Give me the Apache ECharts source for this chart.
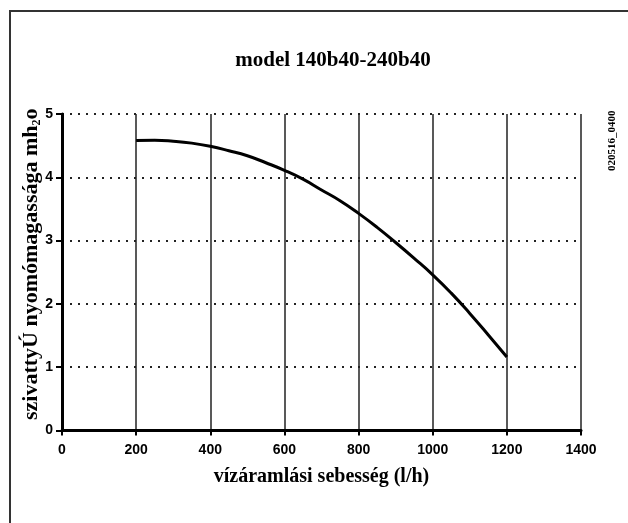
<!DOCTYPE html>
<html><head><meta charset="utf-8">
<script src="https://cdn.jsdelivr.net/npm/echarts@6/dist/echarts.min.js"></script>
<style>html,body{margin:0;padding:0;background:#fff}#c{width:628px;height:523px}</style>
</head><body><div id="c"></div>
<script>
const titleText = 'model 140b40-240b40';
const xAxisName = 'vízáramlási sebesség (l/h)';
const yAxisName = 'szivattyÚ nyomómagassága mh{sub|2}o';
const sideLabel = '020516_0400';
const flow = [200, 250, 300, 350, 400, 450, 500, 550, 600, 650, 700, 750, 800, 850, 900, 950, 1000, 1050, 1100, 1150, 1200];
const head = [4.58, 4.585, 4.57, 4.54, 4.49, 4.42, 4.34, 4.23, 4.11, 3.97, 3.80, 3.63, 3.43, 3.21, 2.97, 2.72, 2.46, 2.17, 1.85, 1.51, 1.16];

const chart = echarts.init(document.getElementById('c'), null, {renderer: 'canvas'});
chart.setOption({
  animation: false,
  backgroundColor: '#fff',
  grid: {left: 62, right: 47, top: 114, bottom: 92.5},
  xAxis: {
    type: 'value', min: 0, max: 1400, interval: 200,
    name: xAxisName, nameLocation: 'middle', nameGap: 36, nameMoveOverlap: false,
    nameTextStyle: {fontFamily: 'Liberation Serif', fontWeight: 'bold', fontSize: 20, color: '#000'},
    axisLine: {show: true, onZero: false, lineStyle: {color: '#000', width: 3}},
    axisTick: {show: true, length: 5, lineStyle: {color: '#000', width: 2}},
    axisLabel: {fontFamily: 'Liberation Sans', fontWeight: 'bold', fontSize: 14, color: '#000', margin: 13,
      formatter: v => String(v)},
    splitLine: {show: true, lineStyle: {color: '#222', width: 1.5, type: 'solid'}}
  },
  yAxis: {
    type: 'value', min: 0, max: 5, interval: 1,
    name: yAxisName, nameLocation: 'middle', nameGap: 19, nameRotate: 90, nameMoveOverlap: false,
    nameTextStyle: {fontFamily: 'Liberation Serif', fontWeight: 'bold', fontSize: 22, color: '#000',
      padding: [0, 0, 0, 16],
      rich: {sub: {fontFamily: 'Liberation Serif', fontWeight: 'bold', fontSize: 12, color: '#000', verticalAlign: 'bottom', padding: [12, 0, 0, 0]}}},
    axisLine: {show: true, lineStyle: {color: '#000', width: 3}},
    axisTick: {show: true, length: 6, lineStyle: {color: '#000', width: 2}},
    axisLabel: {fontFamily: 'Liberation Sans', fontWeight: 'bold', fontSize: 14, color: '#000', margin: 9,
      formatter: v => String(v)},
    splitLine: {show: true, lineStyle: {color: '#222', width: 2, type: [2, 6]}}
  },
  graphic: [
    {type: 'line', shape: {x1: 9, y1: 11, x2: 628, y2: 11}, style: {stroke: '#333', lineWidth: 2}},
    {type: 'line', shape: {x1: 10, y1: 10, x2: 10, y2: 523}, style: {stroke: '#333', lineWidth: 2}},
    {type: 'text', x: 333, y: 61,
      style: {text: titleText, fontFamily: 'Liberation Serif', fontWeight: 'bold', fontSize: 21, fill: '#000',
        align: 'center', verticalAlign: 'middle'}},
    {type: 'text', x: 607, y: 171, rotation: Math.PI / 2,
      style: {text: sideLabel, fontFamily: 'Liberation Serif', fontWeight: 'bold', fontSize: 11, fill: '#000'}}
  ],
  series: [{
    type: 'line', data: flow.map((f, i) => [f, head[i]]),
    smooth: true, showSymbol: false,
    lineStyle: {color: '#000', width: 3}
  }]
});
</script></body></html>
